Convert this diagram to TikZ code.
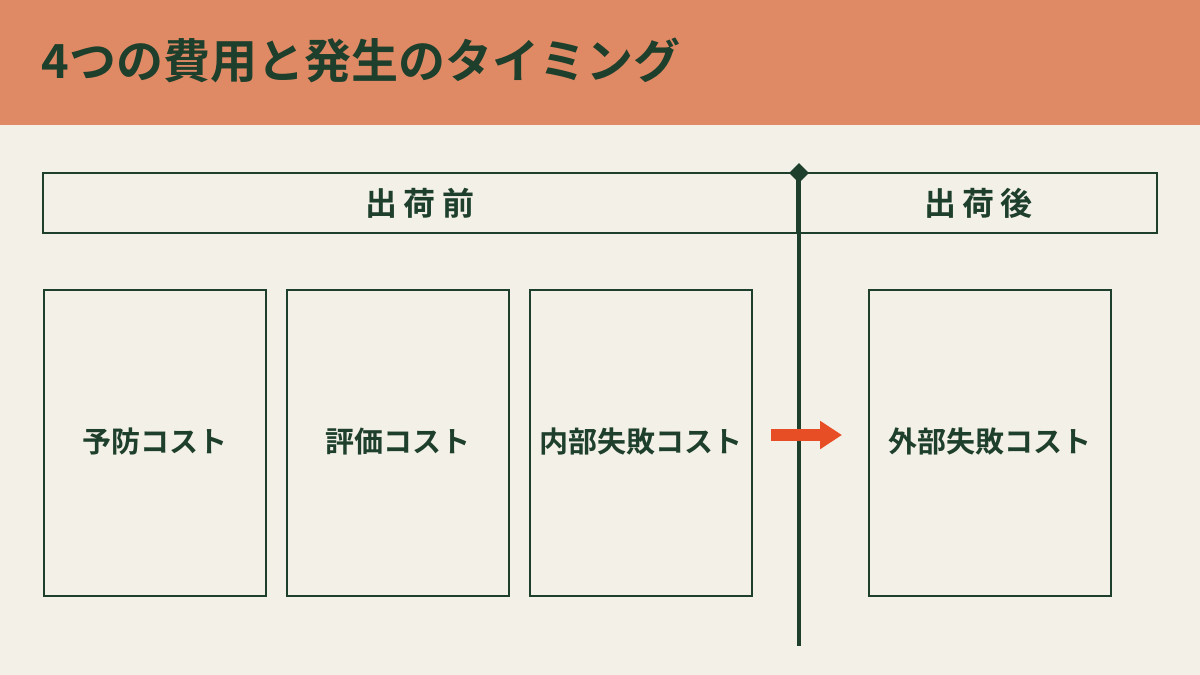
\documentclass[tikz,border=0pt]{standalone}
\usepackage{fontspec}
\setmainfont{Noto Sans CJK JP Bold}
\usetikzlibrary{shapes.geometric,arrows.meta}
\definecolor{band}{HTML}{E08A65}
\definecolor{paper}{HTML}{F3F0E7}
\definecolor{ink}{HTML}{1D3F2B}
\definecolor{flow}{HTML}{E84E25}
\tikzset{
  phase/.style={rectangle, draw=ink, line width=1.6pt, minimum height=60pt, text=ink, font=\fontsize{32}{34}\selectfont\addfontfeature{LetterSpace=20}},
  cost/.style={rectangle, draw=ink, line width=1.6pt, minimum width=222pt, minimum height=306pt, text=ink, font=\fontsize{29}{32}\selectfont},
}
\begin{document}
\begin{tikzpicture}[x=1pt,y=-1pt]
\useasboundingbox (0,0) rectangle (1200,675);
\fill[paper] (0,0) rectangle (1200,675);
\fill[band] (0,0) rectangle (1200,125);
\node (title) [anchor=west, text=ink, font=\fontsize{47}{52}\selectfont] at (38,60) {4つの費用と発生のタイミング};

\node (before) [phase, minimum width=754pt] at (420,203) {出荷前};
\node (after) [phase, minimum width=357pt] at (978.5,203) {出荷後};

\node (prevent) [cost] at (155,443) {\raisebox{5pt}{予防コスト}};
\node (appraise) [cost] at (398,443) {\raisebox{5pt}{評価コスト}};
\node (internal) [cost] at (641,443) {\raisebox{5pt}{内部失敗コスト}};
\node (external) [cost, minimum width=242pt] at (990,443) {\raisebox{5pt}{外部失敗コスト}};

\coordinate (lineTop) at (799,173);
\coordinate (lineEnd) at (799,646);
\draw[ink, line width=4.5pt] (lineTop) -- (lineEnd);
\node (mark) [diamond, fill=ink, inner sep=0pt, minimum size=20pt] at (lineTop) {};

\coordinate (arrowStart) at (771,435);
\coordinate (arrowEnd) at (842,435);
\draw[flow, line width=12pt, -{Triangle[length=22pt,width=27pt]}] (arrowStart) -- (arrowEnd);
\end{tikzpicture}
\end{document}
